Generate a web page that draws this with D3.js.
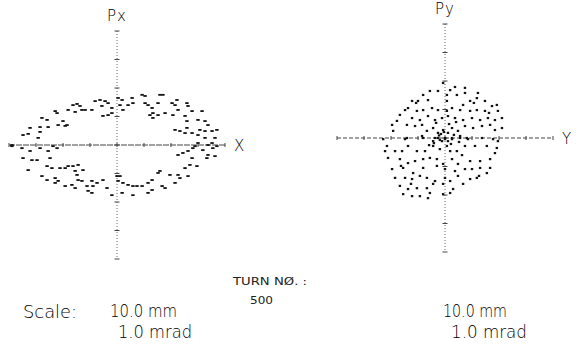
<!DOCTYPE html>
<html>
<head>
<meta charset="utf-8">
<script src="https://cdn.jsdelivr.net/npm/d3@7"></script>
<style>
  body { margin: 0; background: #fff; }
  svg text { font-family: "DejaVu Sans", sans-serif; font-weight: 200; fill: #000; }
  svg text.small { font-weight: 400; fill: #222; }
</style>
</head>
<body>
<svg width="580" height="345"></svg>
<script>
const width = 580, height = 345

// axis ticks, 10 mm / 1 mrad per division
const posTicks = [-40, -30, -20, -10, 0, 10, 20, 30, 40]
const angTicks = [-4, -3, -2, -1, 0, 1, 2, 3, 4]

// horizontal phase space, X (mm) vs Px (mrad)
const xX = [-34.8, -32.9, -38.9, -32.2, -28.5, -28.5, -29.2, -27.8, -25.9, -25.5, -22.9, -22.2, -21.8, -20.0, -19.2, -18.5,
  -18.1, -16.3, -14.8, -15.5, -13.0, -13.7, -11.8, -8.1, -6.3, -9.3, -5.6, -4.4, -3.3, -5.2, -3.3, -1.9, -1.9, 0.4, 1.9,
  1.1, 2.2, 4.1, 5.9, 5.6, 9.3, 10.4, 10.4, 11.5, 13.0, 13.3, 12.2, 13.3, 15.2, 15.9, 17.0, 15.2, 17.8, 20.4, 21.5, 22.2,
  22.6, 20.7, 25.9, 26.3, 25.2, 25.9, 27.8, 30.0, 31.5, 32.6, 33.7, 30.7, 21.5, 23.3, 25.2, 25.9, 27.8, 30.0, 32.6, 35.2,
  37.0, 32.6, 36.3, 35.2, 37.0, 30.0,
  -38.9, -35.2, -34.8, -32.2, -31.5, -32.9, -29.6, -28.5, -25.5, -24.8, -23.7, -22.2, -27.8, -25.9, -24.1, -25.9, -22.9,
  -21.8, -22.9, -21.1, -19.2, -18.1, -16.3, -15.5, -14.8, -14.4, -12.6, -19.2, -16.7, -15.5, -14.4, -13.0, -11.1, -10.7,
  -9.3, -8.9, -9.3, -7.4, -5.2, -3.7, -1.9, 0, 1.1, 0.4, 2.2, 1.9, 4.1, 5.9, 7.4, 9.3, 5.9, 11.5, 13.0, 11.5, 13.0, 15.2,
  15.9, 16.7, 17.8, 19.6, 21.5, 22.6, 23.3, 26.3, 25.2, 27.0, 29.6, 22.6, 24.4, 26.3, 27.8, 28.1, 28.9, 31.8, 33.7, 33.3,
  35.5, 36.3, 33.7]
const xPx = [0.35, 0.39, 0, 0.60, 0.63, 0.46, 0.25, 0.95, 0.88, 0.63, 1.19, 1.12, 0.70, 0.84, 0.67, 0.70,
  1.23, 1.40, 1.44, 1.16, 1.23, 1.37, 1.23, 1.54, 1.58, 1.23, 1.37, 1.54, 1.47, 1.02, 1.05, 1.12, 1.30, 1.65, 1.58,
  1.40, 1.23, 1.40, 1.47, 1.65, 1.76, 1.72, 1.47, 1.40, 1.30, 1.12, 1.05, 0.95, 1.47, 1.76, 1.76, 1.05, 1.12, 1.47, 1.40, 1.58,
  1.23, 1.05, 1.47, 1.37, 1.02, 0.84, 1.19, 0.88, 1.19, 0.84, 0.70, 0.53, 0.53, 0.49, 0.42, 0.60, 0.42, 0.35, 0.49, 0.49,
  0.53, 0.25, 0.25, 0.07, -0.04, 0.07,
  -0.04, -0.11, -0.46, -0.21, -0.53, -0.88, -0.53, -0.11, -0.21, -0.46, -0.04, -0.11, -1.09, -0.74, -0.81, -1.23, -1.16,
  -1.26, -1.33, -0.81, -0.81, -0.74, -0.74, -0.91, -1.05, -0.70, -0.88, -1.44, -1.40, -1.51, -1.23, -1.26, -1.44, -1.61,
  -1.26, -1.44, -1.68, -1.33, -1.23, -1.51, -1.76, -1.09, -1.09, -1.26, -1.33, -1.68, -1.40, -1.44, -1.44, -1.44, -1.76, -1.33, -1.23, -1.68, -1.58, -0.98,
  -0.91, -1.44, -1.51, -1.05, -1.33, -1.05, -1.16, -1.09, -0.81, -0.70, -0.74, -0.35, -0.28, -0.21, -0.46, -0.11, -0.04, -0.18, -0.35, -0.46,
  -0.11, -0.39, 0]

// vertical phase space, Y (mm) vs Py (mrad)
const yY = [-0.7, -2.6, 1.9, 3.7, 7.4, -5.6, -8.1, -10.0, -12.2, -6.3, 0.7, 0.7, 4.4, 7.4, 12.2, 11.8, 9.3, 14.8, 17.4, 19.2,
  -14.8, -13.7, -10.4, -8.1, -4.8, -2.6, 0.7, 2.6, 5.6, 6.7, 9.3, 11.8, 14.8, 19.6, -16.7, -17.8, -12.2, -9.3, -6.3, -3.7,
  -1.1, 1.1, 3.7, 6.7, 10.0, 13.0, 15.9, 18.5, 21.1, -19.6, -19.2, -14.1, -11.1, -8.5, -6.7, -4.4, -2.6, -0.7, 1.1, 2.6,
  4.8, 7.4, 10.4, 13.7, 16.7, 18.5, 21.1, -14.1, -8.5, -3.7, -1.9, 0, 2.6, 5.6, 8.1,
  -22.9, -14.8, -8.1, -4.4, -2.6, -1.1, 0, 1.1, 2.6, 5.6, 8.5, 13.7, 17.8, 19.6, -21.5, -18.5, -15.9, -22.2, -13.7, -10.4,
  -7.4, -4.4, -1.9, 0.7, 1.9, 4.4, 7.4, 11.1, 15.5, 18.5, 19.2, -21.1, -16.7, -13.7, -11.1, -8.1, -5.6, -3.0, -0.7, 2.6,
  4.8, 9.3, 13.0, 16.7, 16.7, -19.6, -15.5, -11.8, -8.1, -3.0, 0, 3.7, 7.4, 10.0, 13.0, 15.5, -18.5, -14.8, -12.2, -9.3,
  -6.7, -3.7, 0, 1.9, 4.8, 9.3, 11.8, -16.7, -13.7, -10.4, -6.7, -4.4, -0.7, 3.0, 6.7, -15.5, -12.2, -9.3, -6.3, -5.6, -0.7, 1.9,
  -1.5, 3.3, -4.1, 5.2, -0.4, 2.2, -2.2, 1.5, -5.9, 4.1, -3.3, 6.3, -10.7, 10.7, -16.3, 16.3, -12.6, 12.6]
const yPy = [1.93, 1.65, 1.68, 1.79, 1.76, 1.65, 1.51, 1.30, 1.30, 1.33, 1.51, 1.30, 1.51, 1.58, 1.58, 1.40, 1.30, 1.30, 1.12, 1.16,
  0.98, 1.05, 0.95, 0.98, 1.05, 0.98, 0.95, 1.05, 0.98, 1.16, 0.95, 0.98, 0.95, 0.95, 0.81, 0.60, 0.70, 0.63, 0.77, 0.63,
  0.70, 0.77, 0.70, 0.63, 0.70, 0.63, 0.70, 0.63, 0.70, 0.46, 0.25, 0.46, 0.42, 0.46, 0.25, 0.35, 0.18, 0.28, 0.18, 0.35,
  0.25, 0.42, 0.35, 0.42, 0.46, 0.28, 0.35, 0, 0.07, 0, -0.07, 0, 0, 0.07, 0,
  -0.04, -0.04, 0, -0.11, 0, -0.11, -0.04, -0.11, -0.04, 0, -0.04, 0, -0.04, -0.11, -0.28, -0.46, -0.46, -0.46, -0.28, -0.46,
  -0.46, -0.28, -0.39, -0.28, -0.46, -0.46, -0.28, -0.28, -0.28, -0.53, -0.35, -0.70, -0.74, -0.88, -0.81, -0.74, -0.70, -0.74, -0.91, -0.74,
  -0.91, -0.81, -0.81, -0.74, -1.05, -1.09, -1.05, -1.23, -1.05, -0.98, -1.09, -1.16, -1.09, -1.09, -1.05, -1.23, -1.40, -1.40, -1.44, -1.33,
  -1.40, -1.51, -1.40, -1.51, -1.33, -1.44, -1.40, -1.68, -1.79, -1.76, -1.76, -1.61, -1.61, -1.79, -1.61, -1.97, -2.04, -2.04, -2.11, -1.93, -1.97, -1.93,
  0.14, 0.11, -0.18, -0.14, 0.21, -0.21, 0.09, 0.49, -0.25, 0.56, 0.53, -0.60, 1.23, 1.23, -0.98, 0.88, -1.61, -1.33]

// plot labels and scale notes
const captions = [
  { t: 'Scale:', x: 23, y: 318, len: 54 },
  { t: '10.0 mm', x: 110, y: 317, len: 67 },
  { t: '1.0 mrad', x: 118, y: 338, len: 74 },
  { t: 'TURN NØ. :', x: 233, y: 285, len: 74, small: true },
  { t: '500', x: 250, y: 304, len: 23, small: true },
  { t: '10.0 mm', x: 443, y: 317, len: 64 },
  { t: '1.0 mrad', x: 451, y: 338, len: 76 }
]

const svg = d3.select('svg')

function panel (opt) {
  const x = d3.scaleLinear().domain([-40, 40]).range(opt.xr)
  const y = d3.scaleLinear().domain([-4, 4]).range(opt.yr)
  const g = svg.append('g')

  // horizontal axis
  g.append('line')
    .attr('x1', x(-40)).attr('x2', x(40))
    .attr('y1', y(0)).attr('y2', y(0))
    .attr('stroke', '#444').attr('stroke-width', 1)
    .attr('stroke-dasharray', opt.hdash)
  g.selectAll('.htick').data(posTicks).enter().append('line')
    .attr('x1', d => x(d)).attr('x2', d => x(d))
    .attr('y1', y(0) - 2).attr('y2', y(0) + 2)
    .attr('stroke', '#444').attr('stroke-width', 1)

  // vertical axis
  g.append('line')
    .attr('x1', x(0)).attr('x2', x(0))
    .attr('y1', y(4)).attr('y2', y(-4))
    .attr('stroke', '#666').attr('stroke-width', 1)
    .attr('stroke-dasharray', '1,2')
  g.selectAll('.vtick').data(angTicks).enter().append('line')
    .attr('x1', x(0) - 2.5).attr('x2', x(0) + 2.5)
    .attr('y1', d => y(d)).attr('y2', d => y(d))
    .attr('stroke', '#444').attr('stroke-width', 1)

  // particles
  const pts = opt.xs.map((d, i) => [d, opt.ys[i]])
  g.selectAll('.p').data(pts).enter().append('rect')
    .attr('x', d => x(d[0]) - opt.dw / 2)
    .attr('y', d => y(d[1]) - opt.dh / 2)
    .attr('width', opt.dw).attr('height', opt.dh)
    .attr('fill', '#111')

  g.append('text').attr('x', x(0)).attr('y', y(4) - 10)
    .attr('text-anchor', 'middle').attr('font-size', 15)
    .attr('letter-spacing', 1).text(opt.vlab)
  g.append('text').attr('x', x(40) + 9).attr('y', y(0) + 6)
    .attr('font-size', 15).text(opt.hlab)
}

panel({ xr: [9, 225], yr: [259, 31], xs: xX, ys: xPx, vlab: 'Px', hlab: 'X', hdash: '6,1', dw: 3.4, dh: 1.8 })
panel({ xr: [337, 553], yr: [252, 24], xs: yY, ys: yPy, vlab: 'Py', hlab: 'Y', hdash: '4,2', dw: 2.4, dh: 2.2 })

svg.selectAll('.cap').data(captions).enter().append('text')
  .attr('class', d => d.small ? 'small' : null)
  .attr('x', d => d.x).attr('y', d => d.y)
  .attr('font-size', d => d.small ? 11 : 17)
  .attr('textLength', d => d.len)
  .attr('lengthAdjust', 'spacingAndGlyphs')
  .text(d => d.t)
</script>
</body>
</html>
